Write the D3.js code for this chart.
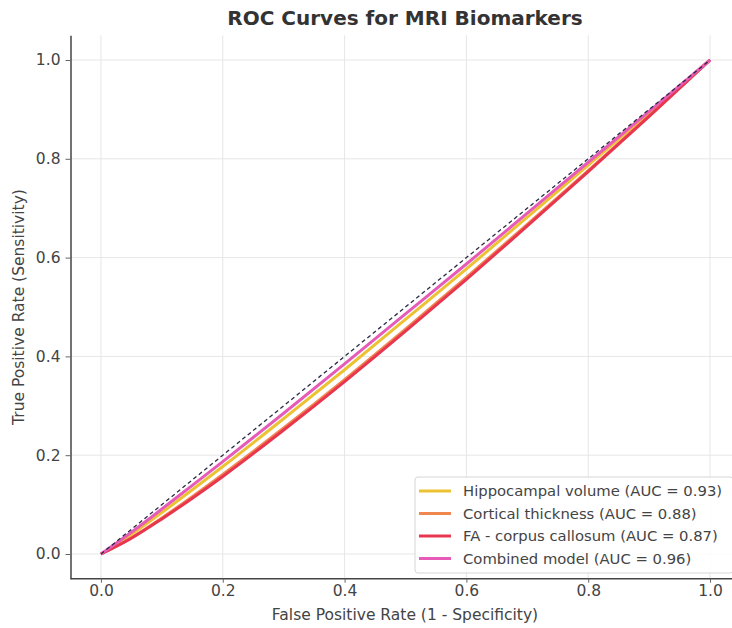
<!DOCTYPE html>
<html>
<head>
<meta charset="utf-8">
<script src="https://cdn.jsdelivr.net/npm/d3@7"></script>
<style>
  body { margin: 0; background: #fff; }
  svg { display: block; font-family: "DejaVu Sans", sans-serif; }
</style>
</head>
<body>
<svg id="chart" width="732" height="628"></svg>
<script>
// values
const fpr = [0, 0.05, 0.1, 0.15, 0.2, 0.3, 0.4, 0.5, 0.6, 0.7, 0.8, 0.9, 1.0];
const hippocampal = [0, 0.040, 0.084, 0.130, 0.177, 0.274, 0.373, 0.475, 0.577, 0.682, 0.787, 0.893, 1.0];
const cortical    = [0, 0.033, 0.073, 0.116, 0.161, 0.255, 0.353, 0.455, 0.560, 0.667, 0.776, 0.887, 1.0];
const faCallosum  = [0, 0.032, 0.071, 0.113, 0.157, 0.251, 0.349, 0.451, 0.556, 0.664, 0.774, 0.886, 1.0];
const combined    = [0, 0.044, 0.091, 0.139, 0.187, 0.285, 0.385, 0.486, 0.587, 0.690, 0.793, 0.896, 1.0];

const seriesNames = ["Hippocampal volume (AUC = 0.93)", "Cortical thickness (AUC = 0.88)",
                     "FA - corpus callosum (AUC = 0.87)", "Combined model (AUC = 0.96)"];
const seriesValues = [hippocampal, cortical, faCallosum, combined];
const seriesColors = ["#ecc232", "#f0874f", "#e8364f", "#e65bb8"];
const ticks = [0, 0.2, 0.4, 0.6, 0.8, 1.0];

const svg = d3.select("#chart");

const x = d3.scaleLinear().domain([-0.05, 1.05]).range([70.5, 740.5]);
const y = d3.scaleLinear().domain([-0.05, 1.05]).range([578.7, 35.3]);

// grid
svg.append("g").selectAll("line").data(ticks).join("line")
  .attr("x1", d => x(d)).attr("x2", d => x(d))
  .attr("y1", y(1.05)).attr("y2", y(-0.05))
  .attr("stroke", "#e6e6e6").attr("stroke-width", 1);
svg.append("g").selectAll("line").data(ticks).join("line")
  .attr("x1", x(-0.05)).attr("x2", x(1.05))
  .attr("y1", d => y(d)).attr("y2", d => y(d))
  .attr("stroke", "#e6e6e6").attr("stroke-width", 1);

// axes
const fmt = d3.format(".1f");
const xAxis = svg.append("g").attr("transform", `translate(0,${y(-0.05)})`)
  .call(d3.axisBottom(x).tickValues(ticks).tickFormat(fmt).tickSize(4).tickPadding(2).tickSizeOuter(0));
const yAxis = svg.append("g").attr("transform", `translate(${x(-0.05)},0)`)
  .call(d3.axisLeft(y).tickValues(ticks).tickFormat(fmt).tickSize(5).tickPadding(5).tickSizeOuter(0));

[xAxis, yAxis].forEach(a => {
  a.select(".domain").attr("stroke", "#444").attr("stroke-width", 1.5);
  a.selectAll(".tick line").attr("stroke", "#666");
  a.selectAll(".tick text").attr("fill", "#444").style("font-size", "15.5px")
    .style("font-family", "DejaVu Sans");
});
// only left and bottom spines
xAxis.select(".domain").attr("d", `M${x(-0.05)},0H${x(1.05)}`);

// curves
const line = d3.line()
  .x((d, i) => x(fpr[i]))
  .y(d => y(d))
  .curve(d3.curveMonotoneX);

seriesValues.forEach((vals, i) => {
  svg.append("path")
    .datum(vals)
    .attr("d", line)
    .attr("fill", "none")
    .attr("stroke", seriesColors[i])
    .attr("stroke-width", 3);
});

// chance diagonal
svg.append("line")
  .attr("x1", x(0)).attr("y1", y(0))
  .attr("x2", x(1)).attr("y2", y(1))
  .attr("stroke", "#2a2a44").attr("stroke-width", 1.3)
  .attr("stroke-dasharray", "4,3");

// title and labels
svg.append("text").attr("x", 405).attr("y", 25)
  .attr("text-anchor", "middle").attr("font-weight", "bold")
  .attr("font-size", 20).attr("fill", "#333")
  .text("ROC Curves for MRI Biomarkers");

svg.append("text").attr("x", 405).attr("y", 620)
  .attr("text-anchor", "middle").attr("font-size", 15.5).attr("fill", "#444")
  .text("False Positive Rate (1 - Specificity)");

svg.append("text")
  .attr("transform", `translate(24,${y(0.5)}) rotate(-90)`)
  .attr("text-anchor", "middle").attr("font-size", 15.5).attr("fill", "#444")
  .text("True Positive Rate (Sensitivity)");

// legend
const legend = svg.append("g").attr("transform", "translate(415,477)");
legend.append("rect")
  .attr("width", 318).attr("height", 96).attr("rx", 3)
  .attr("fill", "#fff").attr("fill-opacity", 0.85)
  .attr("stroke", "#d6d6d6");
seriesNames.forEach((name, i) => {
  const row = legend.append("g").attr("transform", `translate(0,${14 + i * 22.5})`);
  row.append("line").attr("x1", 4).attr("x2", 36)
    .attr("stroke", seriesColors[i]).attr("stroke-width", 3);
  row.append("text").attr("x", 48).attr("y", 5)
    .attr("font-size", 14.8).attr("fill", "#444").text(name);
});
</script>
</body>
</html>
